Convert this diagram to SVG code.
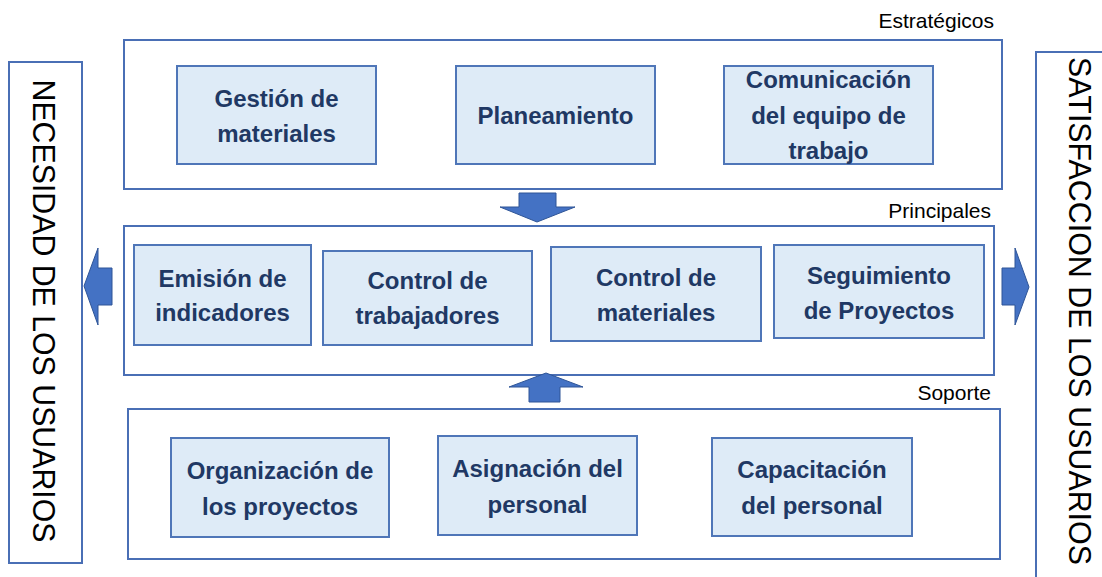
<svg xmlns="http://www.w3.org/2000/svg" width="1102" height="577" viewBox="0 0 1102 577">
<style>
.frame{fill:#fff;stroke:#4A6FB5;stroke-width:2}
.box{fill:#DEEBF7;stroke:#4F76B8;stroke-width:2}
.t{font-family:"Liberation Sans",Arial,sans-serif;font-weight:bold;font-size:24px;fill:#203864;text-anchor:middle}
.lbl{font-family:"Liberation Sans",Arial,sans-serif;font-size:21px;fill:#000;text-anchor:end}
.side{font-family:"Liberation Sans",Arial,sans-serif;font-size:31px;fill:#000;text-anchor:middle}
.arr{fill:#4472C4;stroke:#2F5597;stroke-width:1}
</style>
<rect width="1102" height="577" fill="#fff"/>

<g id="necesidad">
<rect class="frame" x="9" y="62" width="73" height="501"/>
<text class="side" transform="translate(33,311) rotate(90)" textLength="463" lengthAdjust="spacingAndGlyphs">NECESIDAD DE LOS USUARIOS</text>
</g>
<g id="satisfaccion">
<rect class="frame" x="1036" y="52" width="80" height="535"/>
<text class="side" transform="translate(1069,311) rotate(90)" textLength="508" lengthAdjust="spacingAndGlyphs">SATISFACCION DE LOS USUARIOS</text>
</g>

<g id="estrategicos">
<rect class="frame" x="124" y="40" width="878" height="149"/>
<text class="lbl" x="994" y="28">Estratégicos</text>
</g>
<g id="principales">
<rect class="frame" x="124" y="226" width="870" height="149"/>
<text class="lbl" x="991" y="218">Principales</text>
</g>
<g id="soporte">
<rect class="frame" x="128" y="409" width="872" height="150"/>
<text class="lbl" x="991" y="400">Soporte</text>
</g>

<g id="gestion">
<rect class="box" x="177" y="66" width="199" height="98"/>
<text class="t" x="276.500" y="107">Gestión de</text>
<text class="t" x="276.500" y="142">materiales</text>
</g>
<g id="planeamiento">
<rect class="box" x="456" y="66" width="199" height="98"/>
<text class="t" x="555.500" y="124">Planeamiento</text>
</g>
<g id="comunicacion">
<rect class="box" x="724" y="66" width="209" height="98"/>
<text class="t" x="828.500" y="88">Comunicación</text>
<text class="t" x="828.500" y="124">del equipo de</text>
<text class="t" x="828.500" y="159">trabajo</text>
</g>

<g id="emision">
<rect class="box" x="134" y="245" width="177" height="100"/>
<text class="t" x="222.500" y="287">Emisión de</text>
<text class="t" x="222.500" y="321">indicadores</text>
</g>
<g id="control-trabajadores">
<rect class="box" x="323" y="251" width="209" height="94"/>
<text class="t" x="427.500" y="289">Control de</text>
<text class="t" x="427.500" y="324">trabajadores</text>
</g>
<g id="control-materiales">
<rect class="box" x="551" y="247" width="210" height="94"/>
<text class="t" x="656" y="286">Control de</text>
<text class="t" x="656" y="321">materiales</text>
</g>
<g id="seguimiento">
<rect class="box" x="774" y="245" width="210" height="93"/>
<text class="t" x="879" y="284">Seguimiento</text>
<text class="t" x="879" y="319">de Proyectos</text>
</g>

<g id="organizacion">
<rect class="box" x="171" y="438" width="218" height="99"/>
<text class="t" x="280" y="479">Organización de</text>
<text class="t" x="280" y="515">los proyectos</text>
</g>
<g id="asignacion">
<rect class="box" x="438" y="436" width="199" height="99"/>
<text class="t" x="537.500" y="477">Asignación del</text>
<text class="t" x="537.500" y="513">personal</text>
</g>
<g id="capacitacion">
<rect class="box" x="712" y="438" width="200" height="98"/>
<text class="t" x="812" y="478">Capacitación</text>
<text class="t" x="812" y="514">del personal</text>
</g>

<g id="connectors">
<polygon class="arr" points="519,193 556,193 556,207 575,207 537,222 500,207 519,207"/>
<polygon class="arr" points="546,373 583,387 560,387 560,402 529,402 529,387 509,387"/>
<polygon class="arr" points="84,286 98,248 98,268 112,268 112,305 98,305 98,325"/>
<polygon class="arr" points="1029,287 1015,248 1015,268 1002,268 1002,305 1015,305 1015,325"/>
</g>
</svg>
